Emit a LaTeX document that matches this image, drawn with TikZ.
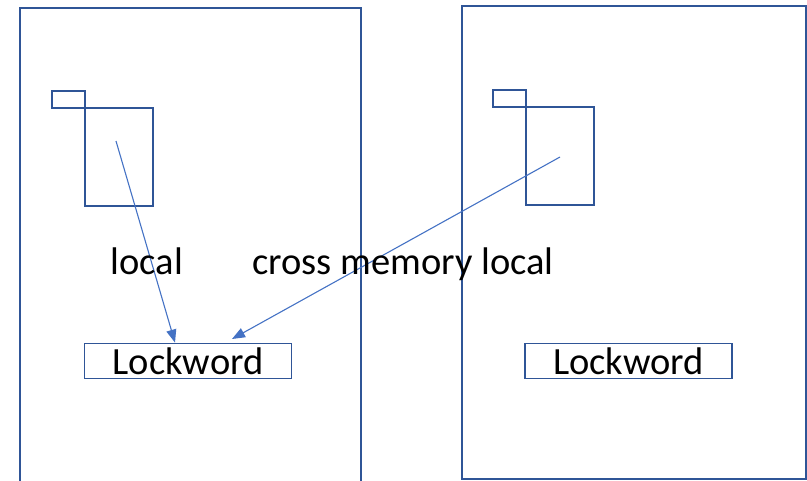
\documentclass[tikz,border=0pt]{standalone}
\usepackage{fontspec}
\setmainfont{Carlito}
\usetikzlibrary{arrows.meta}
\definecolor{boxblue}{HTML}{2F5597}
\definecolor{arrowblue}{HTML}{4472C4}
\begin{document}
\begin{tikzpicture}[x=1pt,y=-1pt,
  frame/.style={draw=boxblue,line width=2.3pt},
  lockbox/.style={draw=boxblue,line width=1.8pt,fill=white,minimum width=207pt,minimum height=35pt,inner sep=0pt,font=\fontsize{38.5}{44}\selectfont},
  label/.style={font=\fontsize{38.5}{44}\selectfont,inner sep=0pt,anchor=base},
  link/.style={draw=arrowblue,line width=1.1pt,-{Triangle[length=13pt,width=10pt]}}]
\useasboundingbox (0,0) rectangle (807,480);
\begin{scope}
\clip (0,0) rectangle (807,480);
% left address space (open at the bottom)
\draw[frame] (20,490) -- (20,8) -- (361,8) -- (361,490);
% right address space
\draw[frame] (462,6) rectangle (806,479);
% control blocks with their tabs
\draw[frame] (52,91) rectangle (85,108);
\draw[frame] (85,108) rectangle (153,206);
\draw[frame] (493,90) rectangle (526,107);
\draw[frame] (526,107) rectangle (594,205);
\end{scope}
\node[lockbox] (lockL) at (188,361) {Lockword};
\node[lockbox] (lockR) at (628.5,361) {Lockword};
\coordinate (srcL) at (116,141);
\coordinate (srcR) at (560,157);
\draw[link] (srcL) -- (lockL.north -| 175,0);
\draw[link] (srcR) -- (232,339);
\node[label] (lblLocal) at (147,274) {local};
\node[label] (lblCross) at (403,274) {cross memory local};
\end{tikzpicture}
\end{document}
